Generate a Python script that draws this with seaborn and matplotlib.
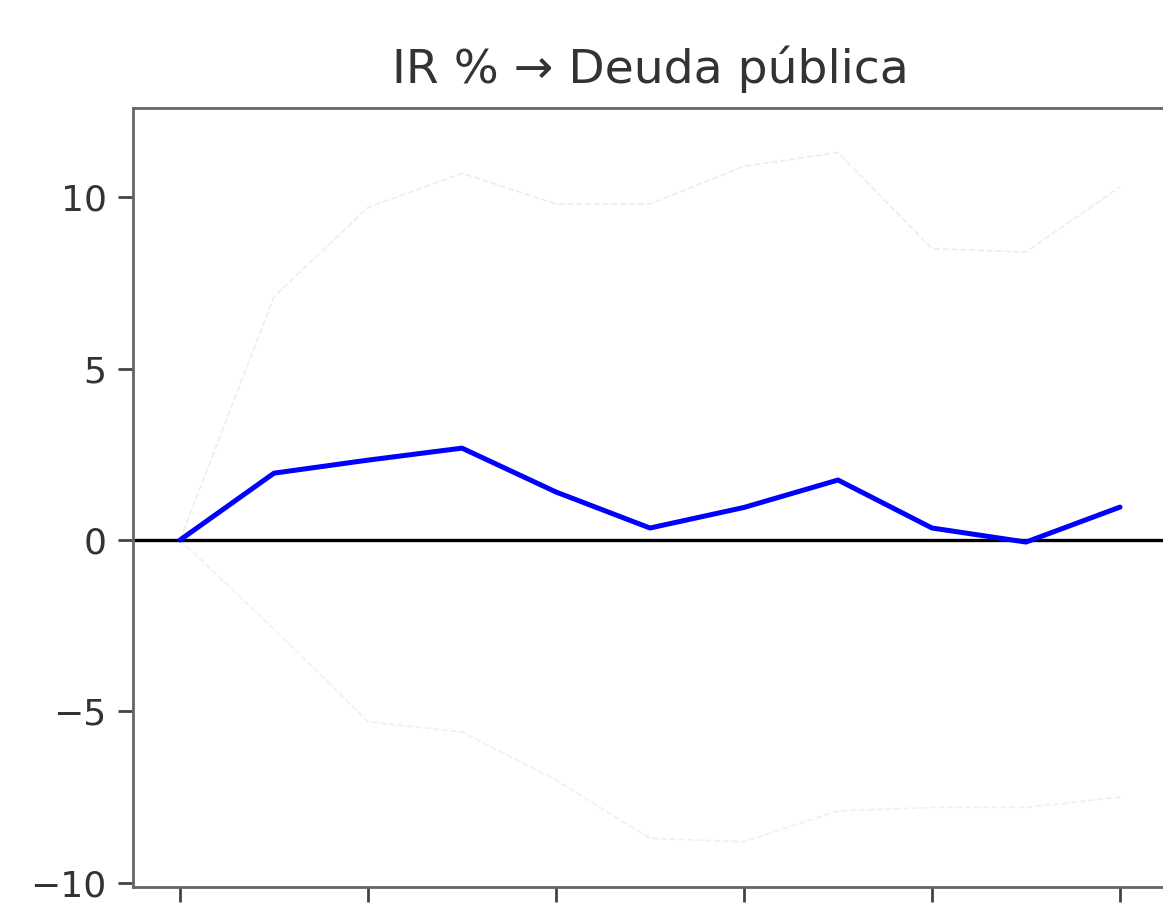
import matplotlib
matplotlib.use("Agg")
import matplotlib.pyplot as plt
import seaborn as sns
import pandas as pd

# horizonte de la respuesta al impulso
horizonte = [0, 1, 2, 3, 4, 5, 6, 7, 8, 9, 10]
respuesta = [0, 1.95, 2.33, 2.68, 1.40, 0.35, 0.95, 1.75, 0.35, -0.06, 0.96]
banda_sup = [0, 7.1, 9.7, 10.7, 9.8, 9.8, 10.9, 11.3, 8.5, 8.4, 10.3]
banda_inf = [0, -2.6, -5.3, -5.6, -7.0, -8.7, -8.8, -7.9, -7.8, -7.8, -7.5]

df = pd.DataFrame({"h": horizonte, "ir": respuesta,
                   "sup": banda_sup, "inf": banda_inf})

sns.set_style("ticks")
plt.rcParams['font.family'] = ['DejaVu Sans']

fig = plt.figure(figsize=(11.63, 9.07), dpi=100)
ax = fig.add_axes([133 / 1163, 20 / 907, 1034 / 1163, 779 / 907])

sns.lineplot(x="h", y="sup", data=df, ax=ax, color="black", linestyle="--",
             linewidth=1.2, alpha=0.07)
sns.lineplot(x="h", y="inf", data=df, ax=ax, color="black", linestyle="--",
             linewidth=1.2, alpha=0.06)
ax.axhline(0, color="black", linewidth=2.4)
sns.lineplot(x="h", y="ir", data=df, ax=ax, color="#0000ff", linewidth=3.6)

ax.set_xlim(-0.5, 10.5)
ax.set_ylim(-10.12, 12.6)
ax.set_xticks([0, 2, 4, 6, 8, 10])
ax.set_yticks([-10, -5, 0, 5, 10])
ax.set_xlabel("")
ax.set_ylabel("")
ax.tick_params(axis="both", labelsize=26, length=11, width=2, color="#444444",
               labelcolor="#333333", pad=8)
ax.tick_params(axis="x", labelbottom=False)
for s in ax.spines.values():
    s.set_linewidth(2)
    s.set_color("#666666")
ax.set_title("IR % → Deuda pública", fontsize=34, pad=18, color="#333333")

fig.savefig("out.png", dpi=100)
